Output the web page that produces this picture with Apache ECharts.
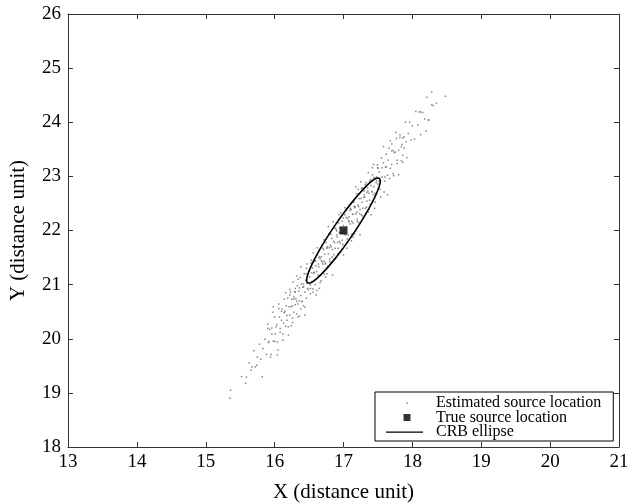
<!DOCTYPE html>
<html>
<head>
<meta charset="utf-8">
<script src="https://cdn.jsdelivr.net/npm/echarts@6/dist/echarts.min.js"></script>
<style>
  html, body { margin: 0; padding: 0; background: #fff; }
  #chart { width: 628px; height: 504px; }
</style>
</head>
<body>
<div id="chart"></div>
<script>
// estimated source locations (x/y in distance units)
const estimatedPoints = [
  // lower tail
  [15.35, 18.90], [15.36, 19.05], [15.52, 19.30], [15.58, 19.18], [15.59, 19.29], [15.63, 19.55],
  [15.66, 19.42], [15.67, 19.48], [15.70, 19.78], [15.72, 19.48], [15.74, 19.51], [15.75, 19.66],
  [15.78, 19.90], [15.80, 19.62], [15.82, 19.30], [15.83, 19.82],
  // 15.85 - 16.2
  [15.86, 19.99], [15.88, 19.71], [15.90, 20.27], [15.91, 19.93], [15.93, 20.17], [15.95, 19.71],
  [15.96, 20.09], [15.97, 20.49], [15.98, 19.96], [16.00, 20.40], [16.01, 20.09], [16.03, 20.26],
  [16.04, 19.94], [16.05, 19.79], [16.06, 20.64], [16.07, 20.40], [16.08, 20.12], [16.10, 20.34],
  [16.11, 20.55], [16.12, 19.97], [16.13, 20.29], [16.14, 20.73], [16.15, 20.51], [16.16, 20.23],
  [16.17, 20.61], [16.18, 20.43], [16.19, 20.75], [16.20, 20.22],
  // 16.2 - 16.5
  [16.21, 20.59], [16.22, 20.44], [16.22, 20.91], [16.23, 20.86], [16.24, 20.24], [16.25, 20.73],
  [16.26, 20.61], [16.26, 20.38], [16.27, 21.05], [16.28, 20.49], [16.28, 20.73], [16.29, 20.87],
  [16.30, 20.63], [16.30, 20.86], [16.31, 20.74], [16.32, 20.46], [16.32, 21.16], [16.33, 20.98],
  [16.34, 20.64], [16.34, 21.10], [16.35, 20.88], [16.36, 20.42], [16.36, 20.70], [16.37, 21.13],
  [16.38, 20.80], [16.38, 20.55], [16.39, 21.01], [16.40, 20.69], [16.41, 20.95], [16.42, 20.61],
  [16.42, 21.01], [16.43, 21.20], [16.44, 20.86], [16.44, 20.58], [16.45, 21.08], [16.46, 20.75],
  [16.46, 21.20], [16.47, 21.38], [16.48, 21.04], [16.49, 20.91], [16.50, 21.26],
  // core 16.5 - 17.5
  [16.51, 21.14], [16.52, 20.93], [16.53, 21.40], [16.54, 21.06], [16.55, 21.31], [16.56, 20.86],
  [16.57, 21.21], [16.58, 21.43], [16.59, 21.00], [16.60, 21.35], [16.61, 21.24], [16.62, 21.68],
  [16.63, 21.18], [16.64, 21.50], [16.65, 20.93], [16.66, 21.48], [16.67, 21.18], [16.68, 21.44],
  [16.69, 21.73], [16.70, 21.38], [16.71, 21.65], [16.72, 21.19], [16.73, 21.56], [16.74, 21.40],
  [16.75, 21.78], [16.76, 21.20], [16.77, 21.70], [16.78, 21.57], [16.79, 21.94], [16.80, 21.47],
  [16.81, 21.73], [16.82, 21.41], [16.83, 21.85], [16.84, 21.65], [16.85, 22.16], [16.86, 21.55],
  [16.87, 21.78], [16.88, 22.04], [16.89, 21.49], [16.90, 21.92], [16.91, 21.88], [16.92, 21.67],
  [16.93, 22.14], [16.94, 21.80], [16.95, 22.05], [16.96, 21.60], [16.97, 21.95], [16.98, 22.17],
  [16.99, 21.74], [17.00, 22.09], [17.01, 21.98], [17.02, 22.42], [17.03, 21.92], [17.04, 22.24],
  [17.05, 21.67], [17.06, 22.22], [17.07, 21.92], [17.08, 22.18], [17.09, 22.47], [17.10, 22.12],
  [17.11, 22.39], [17.12, 21.93], [17.13, 22.30], [17.14, 22.14], [17.15, 22.52], [17.16, 21.94],
  [17.17, 22.44], [17.18, 22.31], [17.19, 22.68], [17.20, 22.21], [17.21, 22.47], [17.22, 22.15],
  [17.23, 22.59], [17.24, 22.39], [17.25, 22.90], [17.26, 22.29], [17.27, 22.52], [17.28, 22.78],
  [17.29, 22.23], [17.30, 22.66], [17.31, 22.62], [17.32, 22.41], [17.33, 22.88], [17.34, 22.54],
  [17.35, 22.79], [17.36, 22.34], [17.37, 22.69], [17.38, 22.91], [17.39, 22.48], [17.40, 22.83],
  [17.41, 22.72], [17.42, 23.16], [17.43, 22.66], [17.44, 22.98], [17.45, 22.41], [17.46, 22.96],
  [17.47, 22.66], [17.48, 22.92], [17.49, 23.21], [17.50, 22.86],
  [16.515, 21.00], [16.535, 21.45], [16.555, 20.92], [16.575, 21.23], [16.595, 21.44], [16.615, 20.89],
  [16.635, 21.38], [16.655, 21.52], [16.675, 21.07], [16.695, 21.42], [16.715, 21.83], [16.735, 21.38],
  [16.755, 21.67], [16.775, 21.34], [16.795, 21.68], [16.815, 21.93], [16.835, 21.51], [16.855, 21.80],
  [16.875, 21.47], [16.895, 22.02], [16.915, 21.78], [16.935, 22.29], [16.955, 21.77], [16.975, 21.95],
  [16.995, 22.23], [17.015, 21.93], [17.035, 22.38], [17.055, 21.84], [17.075, 22.16], [17.095, 22.37],
  [17.115, 21.81], [17.135, 22.30], [17.155, 22.45], [17.175, 21.99], [17.195, 22.34], [17.215, 22.76],
  [17.235, 22.31], [17.255, 22.59], [17.275, 22.27], [17.295, 22.61], [17.315, 22.85], [17.335, 22.43],
  [17.355, 22.73], [17.375, 22.39], [17.395, 22.94], [17.415, 22.71], [17.435, 23.22], [17.455, 22.69],
  [17.475, 22.88], [17.495, 23.16],
  // 17.5 - 18.1
  [17.52, 23.08], [17.53, 22.76], [17.55, 23.34], [17.56, 22.99], [17.58, 23.25], [17.59, 22.71],
  [17.60, 22.99], [17.61, 23.17], [17.62, 23.41], [17.64, 23.02], [17.65, 23.30], [17.67, 22.96],
  [17.68, 23.66], [17.70, 23.22], [17.70, 23.60], [17.72, 23.48], [17.73, 23.01], [17.75, 23.45],
  [17.77, 23.70], [17.78, 23.24], [17.80, 23.48], [17.82, 23.72], [17.84, 23.29], [17.85, 23.59],
  [17.86, 23.71], [17.86, 23.39], [17.88, 23.53], [17.90, 24.00], [17.91, 23.64], [17.92, 23.35],
  [17.94, 23.79], [17.96, 24.00], [17.98, 23.67], [18.00, 23.93], [18.03, 23.69], [18.05, 24.20],
  [18.08, 23.95],
  // upper tail
  [18.10, 24.19], [18.12, 23.77], [18.12, 24.19], [18.15, 24.18], [18.18, 24.06], [18.20, 23.84],
  [18.21, 24.46], [18.23, 24.04], [18.24, 24.04], [18.28, 24.56], [18.28, 24.32], [18.30, 24.31],
  [18.35, 24.35], [18.48, 24.48],
  // second sweep over the band (wider spread)
  [15.90, 20.19], [15.92, 19.95], [15.94, 19.66], [15.96, 20.20], [15.98, 20.59], [16.00, 19.95],
  [16.02, 20.22], [16.04, 19.70], [16.06, 20.56], [16.08, 20.19], [16.10, 20.51], [16.12, 20.09],
  [16.14, 20.48], [16.16, 20.85], [16.18, 20.34], [16.20, 20.07], [16.22, 20.81], [16.24, 20.59],
  [16.26, 20.30], [16.28, 20.77], [16.30, 20.93], [16.32, 20.69], [16.34, 20.40], [16.36, 20.94],
  [16.38, 21.33], [16.40, 20.69], [16.42, 20.96], [16.44, 20.44], [16.46, 21.30], [16.48, 20.93],
  [16.50, 21.25], [16.52, 20.83], [16.54, 21.22], [16.56, 21.59], [16.58, 21.08], [16.60, 20.81],
  [16.62, 21.55], [16.64, 21.33], [16.66, 21.04], [16.68, 21.51], [16.70, 21.67], [16.72, 21.43],
  [16.74, 21.14], [16.76, 21.68], [16.78, 22.07], [16.80, 21.43], [16.82, 21.70], [16.84, 21.18],
  [16.86, 22.04], [16.88, 21.67], [16.90, 21.99], [16.92, 21.57], [16.94, 21.96], [16.96, 22.33],
  [16.98, 21.82], [17.00, 21.55], [17.02, 22.29], [17.04, 22.07], [17.06, 21.78], [17.08, 22.25],
  [17.10, 22.41], [17.12, 22.17], [17.14, 21.88], [17.16, 22.42], [17.18, 22.81], [17.20, 22.17],
  [17.22, 22.44], [17.24, 21.92], [17.26, 22.78], [17.28, 22.41], [17.30, 22.73], [17.32, 22.31],
  [17.34, 22.70], [17.36, 23.07], [17.38, 22.56], [17.40, 22.29], [17.42, 23.03], [17.44, 22.81],
  [17.46, 22.52], [17.48, 22.99], [17.50, 23.15], [17.52, 22.91], [17.54, 22.62], [17.56, 23.16],
  [17.58, 23.55], [17.60, 22.91], [17.62, 23.18], [17.64, 22.66], [17.66, 23.52], [17.68, 23.15],
  [17.70, 23.47], [17.72, 23.05], [17.74, 23.44], [17.76, 23.81], [17.78, 23.30], [17.80, 23.03],
  [17.82, 23.77], [17.84, 23.55], [17.86, 23.26], [17.88, 23.73]
];

// true source
const trueSource = [[17.0, 22.0]];

// CRB ellipse outline, read around the curve
const ellipsePoints = [
  [17.522, 22.970], [17.535, 22.910], [17.512, 22.788], [17.453, 22.612], [17.364, 22.395],
  [17.250, 22.151], [17.119, 21.896], [16.980, 21.649], [16.842, 21.425], [16.715, 21.240],
  [16.608, 21.108], [16.527, 21.036], [16.478, 21.030], [16.465, 21.090], [16.488, 21.212],
  [16.547, 21.388], [16.636, 21.605], [16.750, 21.849], [16.881, 22.104], [17.020, 22.351],
  [17.158, 22.575], [17.285, 22.760], [17.392, 22.892], [17.473, 22.964], [17.522, 22.970]
];

const legendNames = ['Estimated source location', 'True source location', 'CRB ellipse'];

const chart = echarts.init(document.getElementById('chart'), null, { renderer: 'canvas' });

const serif = 'Liberation Serif';
const axisColor = '#333';

// 四条边都有刻度（刻度朝内）
function frameAxis(extra) {
  return Object.assign({
    type: 'value',
    interval: 1,
    axisLine: { show: true, onZero: false, lineStyle: { color: axisColor, width: 1 } },
    axisTick: { show: true, inside: true, length: 5, lineStyle: { color: axisColor } },
    splitLine: { show: false },
    axisLabel: { show: false }
  }, extra);
}

const option = {
  animation: false,
  backgroundColor: '#fff',
  // 不让 v6 自动收缩绘图区
  grid: { left: 68, top: 14, right: 9, bottom: 57, outerBoundsMode: 'none' },
  xAxis: [
    frameAxis({
      min: 13, max: 21, position: 'bottom',
      name: 'X (distance unit)', nameLocation: 'middle', nameGap: 35,
      nameTextStyle: { fontFamily: serif, fontSize: 21, color: '#000' },
      axisLabel: { show: true, fontFamily: serif, fontSize: 19, color: '#000', margin: 6 }
    }),
    frameAxis({ min: 13, max: 21, position: 'top' })
  ],
  yAxis: [
    frameAxis({
      min: 18, max: 26, position: 'left',
      name: 'Y (distance unit)', nameLocation: 'middle', nameGap: 39,
      nameTextStyle: { fontFamily: serif, fontSize: 21, color: '#000' },
      axisLabel: { show: true, fontFamily: serif, fontSize: 19, color: '#000', margin: 7 }
    }),
    frameAxis({ min: 18, max: 26, position: 'right' })
  ],
  legend: {
    orient: 'vertical',
    left: 375,
    top: 392,
    padding: [3, 12, 1, 11],
    itemWidth: 45,
    itemHeight: 14,
    itemGap: -1.5,
    backgroundColor: '#fff',
    borderColor: '#000',
    borderWidth: 1,
    borderRadius: 0,
    textStyle: { fontFamily: serif, fontSize: 16, lineHeight: 14, color: '#000' },
    data: [
      { name: legendNames[0], icon: 'path://M0,0M90,28M40.5,12.5h3v3h-3z', itemStyle: { color: '#666' } },
      { name: legendNames[1], icon: 'path://M0,0M90,28M35,7h14v14h-14z', itemStyle: { color: '#000' } },
      { name: legendNames[2], icon: 'path://M0,0M90,28M0,12.8h74v2.6h-74z', itemStyle: { color: '#000', borderWidth: 0 } }
    ]
  },
  series: [
    {
      name: legendNames[0],
      type: 'scatter',
      data: estimatedPoints,
      symbol: 'rect',
      symbolSize: 1.5,
      itemStyle: { color: '#6a6a6a' },
      silent: true,
      z: 2
    },
    {
      name: legendNames[2],
      type: 'line',
      data: ellipsePoints,
      smooth: 0.3,
      showSymbol: false,
      symbol: 'none',
      lineStyle: { color: '#000', width: 1.6 },
      itemStyle: { color: '#000' },
      z: 3
    },
    {
      name: legendNames[1],
      type: 'scatter',
      data: trueSource,
      symbol: 'rect',
      symbolSize: 8,
      itemStyle: { color: '#000' },
      z: 4
    }
  ]
};

chart.setOption(option);
</script>
</body>
</html>
